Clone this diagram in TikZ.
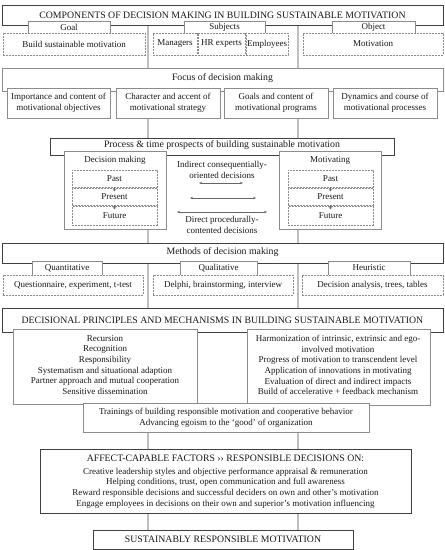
\documentclass[tikz,border=0pt]{standalone}
\usepackage{fontspec}
\setmainfont{Liberation Serif}
\usetikzlibrary{arrows.meta,backgrounds}
\pgfdeclarelayer{paper}
\pgfsetlayers{paper,background,main}
\newcommand\rbox[7]{%
  \node[#1, minimum width={(#5-#3)*1pt}, minimum height={(#6-#4)*1pt}, inner sep=0pt]
    (#2) at ({(#3+#5)/2},{(#4+#6)/2}) {#7};}
\begin{document}
\begin{tikzpicture}[x=1pt,y=-1pt,
  big/.style={font=\fontsize{9.8}{11.5}\selectfont, text=black!90, align=center},
  sm/.style={font=\fontsize{9}{10.7}\selectfont, text=black!90, align=center},
  hbox/.style={draw=black!75, line width=0.8pt, fill=white, big},
  gbox/.style={draw=black!45, line width=0.6pt, fill=white, sm},
  tab/.style={draw=black!45, line width=0.6pt, fill=white, sm},
  dbox/.style={draw=black!45, line width=0.5pt, dash pattern=on 1.8pt off 1.2pt, fill=white, sm},
  bar/.style={draw=black!25, line width=2.2pt},
  tarr/.style={draw=black!60, line width=0.4pt, -{Straight Barb[length=2pt,width=3.5pt]}},
  darr/.style={draw=black!60, line width=0.45pt, {Stealth[length=3pt,width=2.4pt]}-{Stealth[length=3pt,width=2.4pt]}}
]
\begin{pgfonlayer}{paper}
\fill[white] (0,0) rectangle (445,550);
\end{pgfonlayer}
\useasboundingbox (0,0) rectangle (445,550);
\coordinate (L) at (148,0);
\coordinate (R) at (298,0);

% ---------- Section 1: components
\rbox{hbox}{comp}{2}{5}{443}{25}{COMPONENTS OF DECISION MAKING IN BUILDING SUSTAINABLE MOTIVATION}
\rbox{tab}{goal}{28}{21}{110}{33}{Goal}
\rbox{tab}{subj}{184}{21}{265}{33}{Subjects}
\rbox{tab}{obj}{332}{21}{415}{33}{Object}
\rbox{dbox}{goald}{3}{33}{145}{55}{Build sustainable motivation}
\rbox{dbox}{man}{153}{33}{197}{55}{Managers}
\rbox{dbox}{hr}{198}{33}{245}{55}{HR experts}
\rbox{dbox}{emp}{246}{33}{288}{55}{Employees}
\rbox{dbox}{objd}{303}{33}{443}{55}{Motivation}

% ---------- Section 2: focus
\rbox{gbox}{focus}{2}{68}{443}{91}{}
\node[big] (focusT) at (222.5,78.5) {Focus of decision making};
\rbox{gbox}{f1}{7}{88}{110}{118}{Importance and content of\\motivational objectives}
\rbox{gbox}{f2}{116}{88}{220}{118}{Character and accent of\\motivational strategy}
\rbox{gbox}{f3}{224}{88}{328}{118}{Goals and content of\\motivational programs}
\rbox{gbox}{f4}{333}{88}{437}{118}{Dynamics and course of\\motivational processes}

% ---------- Section 3: process
\rbox{hbox}{proc}{50}{138}{394}{155}{}
\node[big] (procT) at (222,145.5) {Process \& time prospects of building sustainable motivation};
\rbox{gbox}{dm}{64}{151}{166}{229}{}
\node[sm] (dmT) at (115,160) {Decision making};
\rbox{dbox}{dpast}{72}{170}{157}{187}{Past}
\rbox{dbox}{dpres}{72}{188.5}{157}{205}{Present}
\rbox{dbox}{dfut}{72}{206.5}{157}{225}{Future}
\draw[tarr] (dpast.south) -- ([yshift=-3pt]dpres.north);
\draw[tarr] (dpres.south) -- ([yshift=-3pt]dfut.north);

\rbox{gbox}{mo}{279}{151}{381}{229}{}
\node[sm] (moT) at (330,160) {Motivating};
\rbox{dbox}{mpast}{288}{170}{373}{187}{Past}
\rbox{dbox}{mpres}{288}{188.5}{373}{205}{Present}
\rbox{dbox}{mfut}{288}{206.5}{373}{225}{Future}
\draw[tarr] (mpast.south) -- ([yshift=-3pt]mpres.north);
\draw[tarr] (mpres.south) -- ([yshift=-3pt]mfut.north);

\node[sm] (indT) at (222,170) {Indirect consequentially-\\oriented decisions};
\node[sm] (dirT) at (222,225) {Direct procedurally-\\contented decisions};
\coordinate (a1l) at (199,183); \coordinate (a1r) at (243,183);
\coordinate (a2l) at (190,198); \coordinate (a2r) at (256,198);
\coordinate (a3l) at (177,212); \coordinate (a3r) at (267,212);
\draw[darr] (a1l) -- (a1r);
\draw[darr] (a2l) -- (a2r);
\draw[darr] (a3l) -- (a3r);

% ---------- Section 4: methods
\rbox{hbox}{meth}{2}{243}{443}{263}{}
\node[big] (methT) at (222.5,252.5) {Methods of decision making};
\rbox{tab}{quant}{32}{261}{102}{275}{Quantitative}
\rbox{tab}{qual}{180}{261}{257}{275}{Qualitative}
\rbox{tab}{heur}{328}{261}{410}{275}{Heuristic}
\rbox{dbox}{quantd}{3}{275}{143}{295}{Questionnaire, experiment, t-test}
\rbox{dbox}{quald}{153}{275}{293}{295}{Delphi, brainstorming, interview}
\rbox{dbox}{heurd}{302}{275}{443}{295}{Decision analysis, trees, tables}

% ---------- Section 5: principles
\rbox{hbox}{dec}{2}{308}{443}{332}{}
\node[big] (decT) at (222.5,320) {DECISIONAL PRINCIPLES AND MECHANISMS IN BUILDING SUSTAINABLE MOTIVATION};
\rbox{gbox}{pl}{13}{329}{197}{404}{}
\node[sm] (plT) at (105,365) {Recursion\\Recognition\\Responsibility\\Systematism and situational adaption\\Partner approach and mutual cooperation\\Sensitive dissemination};
\rbox{gbox}{pr}{247}{329}{430}{405}{}
\node[sm] (prT) at (338,365) {Harmonization of intrinsic, extrinsic and ego-\\involved motivation\\Progress of motivation to transcendent level\\Application of innovations in motivating\\Evaluation of direct and indirect impacts\\Build of accelerative + feedback mechanism};
\rbox{gbox}{tr}{83}{403}{369}{432}{Trainings of building responsible motivation and cooperative behavior\\Advancing egoism to the ‘good’ of organization}

% ---------- Section 6: affect
\rbox{hbox}{aff}{40}{449}{411}{513}{}
\node[big] (affT) at (225.5,458.5) {AFFECT-CAPABLE FACTORS ›› RESPONSIBLE DECISIONS ON:};
\node[sm] (affL) at (225.5,488) {Creative leadership styles and objective performance appraisal \& remuneration\\Helping conditions, trust, open communication and full awareness\\Reward responsible decisions and successful deciders on own and other’s motivation\\Engage employees in decisions on their own and superior’s motivation influencing};
\rbox{hbox}{sus}{93}{530}{353}{549}{SUSTAINABLY RESPONSIBLE MOTIVATION}

% ---------- connecting bars
\begin{pgfonlayer}{background}
\draw[bar] (comp.south -| L) -- (focus.north -| L);
\draw[bar] (comp.south -| R) -- (focus.north -| R);
\draw[bar] (f2.south -| L) -- (proc.north -| L);
\draw[bar] (f3.south -| R) -- (proc.north -| R);
\draw[bar] (dm.south -| L) -- (meth.north -| L);
\draw[bar] (mo.south -| R) -- (meth.north -| R);
\draw[bar] (meth.south -| L) -- (dec.north -| L);
\draw[bar] (meth.south -| R) -- (dec.north -| R);
\draw[bar] (tr.south -| L) -- (aff.north -| L);
\draw[bar] (tr.south -| R) -- (aff.north -| R);
\draw[bar] (aff.south -| L) -- (sus.north -| L);
\draw[bar] (aff.south -| R) -- (sus.north -| R);
\end{pgfonlayer}
\end{tikzpicture}
\end{document}
